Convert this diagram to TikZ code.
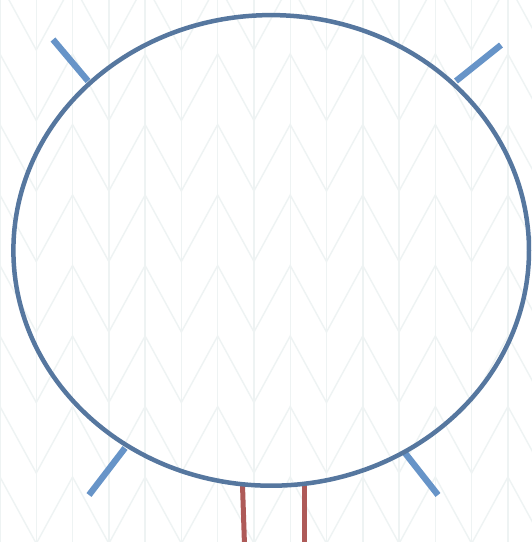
\documentclass[tikz,border=0pt]{standalone}
\usetikzlibrary{shapes.geometric}
\definecolor{ringc}{HTML}{56779F}
\definecolor{tickc}{HTML}{6794C8}
\definecolor{redc}{HTML}{AE5A58}
\definecolor{bgc}{HTML}{EEF3F3}
\tikzset{
  bgline/.style={draw=bgc, line width=1.4pt, line join=miter},
  ringstyle/.style={ellipse, draw=ringc, line width=4.5pt, inner sep=0pt},
  tickline/.style={draw=tickc, line width=6.3pt},
  redline/.style={draw=redc, line width=5pt}
}
\begin{document}
\begin{tikzpicture}[x=1pt,y=-1pt]
\useasboundingbox (0,0) rectangle (532,542);
\fill[white] (0,0) rectangle (532,542);
\begin{scope}
\clip (0,0) rectangle (532,542);
\foreach \i in {0,...,15} \draw[bgline] ({36.28*\i},-5) -- ({36.28*\i},550);
\foreach \k in {-1,...,8} {
  \draw[bgline] (0,{50+70.5*\k-66.5})
    \foreach \j in {0,...,7} {
      -- ({36.28*(2*\j+1)},{50+70.5*\k})
      -- ({36.28*(2*\j+2)},{50+70.5*\k-66.5})
    };
}
\end{scope}
% ticks
\coordinate (t1a) at (88,81);   \coordinate (t1b) at (53,39.5);
\coordinate (t2a) at (456,81);  \coordinate (t2b) at (501,45);
\coordinate (t3a) at (125,448); \coordinate (t3b) at (89,495);
\coordinate (t4a) at (405,453); \coordinate (t4b) at (438,495);
\coordinate (r1a) at (242.5,485); \coordinate (r1b) at (244.5,545);
\coordinate (r2a) at (304,485);   \coordinate (r2b) at (304,545);
\draw[tickline] (t1a) -- (t1b);
\draw[tickline] (t2a) -- (t2b);
\draw[tickline] (t3a) -- (t3b);
\draw[tickline] (t4a) -- (t4b);
\draw[redline] (r1a) -- (r1b);
\draw[redline] (r2a) -- (r2b);
\node[ringstyle, minimum width=515.6pt, minimum height=470.6pt] (ring) at (271.2,250.4) {};
\end{tikzpicture}
\end{document}
